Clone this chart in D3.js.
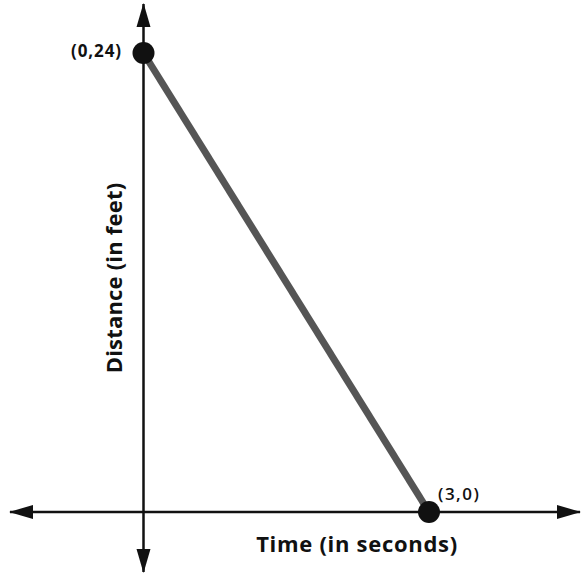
<!DOCTYPE html>
<html><head><meta charset="utf-8">
<script src="https://cdn.jsdelivr.net/npm/d3@7"></script>
<style>body{margin:0;background:#fff}svg{display:block}text{font-family:"Open Sans",Lato,sans-serif;fill:#111}</style>
</head><body><svg id="c" width="581" height="573"></svg>
<script>
const times = [0, 3];
const distances = [24, 0];
const pointLabels = ["(0,24)", "(3,0)"];
const xTitle = "Time (in seconds)";
const yTitle = "Distance (in feet)";

const svg = d3.select("#c");
const x = d3.scaleLinear().domain([0, 3]).range([143.5, 429]);
const y = d3.scaleLinear().domain([0, 24]).range([512, 53]);

const defs = svg.append("defs");
defs.append("marker").attr("id","arr").attr("viewBox","0 0 24 16")
  .attr("refX",23).attr("refY",8).attr("markerWidth",24).attr("markerHeight",16)
  .attr("markerUnits","userSpaceOnUse").attr("orient","auto-start-reverse")
  .append("path").attr("d","M0,1 L24,8 L0,15 Z").attr("fill","#111");

// axes
svg.append("line").attr("x1",10).attr("x2",580).attr("y1",y(0)).attr("y2",y(0))
  .attr("stroke","#111").attr("stroke-width",2.5)
  .attr("marker-start","url(#arr)").attr("marker-end","url(#arr)");
svg.append("line").attr("x1",x(0)).attr("x2",x(0)).attr("y1",4).attr("y2",572)
  .attr("stroke","#111").attr("stroke-width",2.5)
  .attr("marker-start","url(#arr)").attr("marker-end","url(#arr)");

const pts = times.map((t,i)=>({t, d:distances[i], label:pointLabels[i]}));
svg.append("path").datum(pts)
  .attr("d", d3.line().x(p=>x(p.t)).y(p=>y(p.d)))
  .attr("stroke","#555").attr("stroke-width",7).attr("fill","none");

svg.selectAll("circle.pt").data(pts).join("circle")
  .attr("cx",p=>x(p.t)).attr("cy",p=>y(p.d)).attr("r",11).attr("fill","#111");

svg.append("text").attr("x",122).attr("y",56.5).attr("text-anchor","end")
  .attr("font-size",17).attr("font-weight",700).attr("letter-spacing",0.9).text(pts[0].label);
svg.append("text").attr("x",438).attr("y",499.5)
  .attr("font-size",17).attr("font-weight",600).attr("letter-spacing",1.5).text(pts[1].label);

svg.append("text").attr("x",357).attr("y",552).attr("text-anchor","middle")
  .attr("font-size",22).attr("font-weight",700).attr("letter-spacing",0.7).text(xTitle);
svg.append("text").attr("transform","translate(122,278) rotate(-90)").attr("text-anchor","middle")
  .attr("font-size",22).attr("font-weight",700).attr("letter-spacing",0.2).text(yTitle);
</script></body></html>
